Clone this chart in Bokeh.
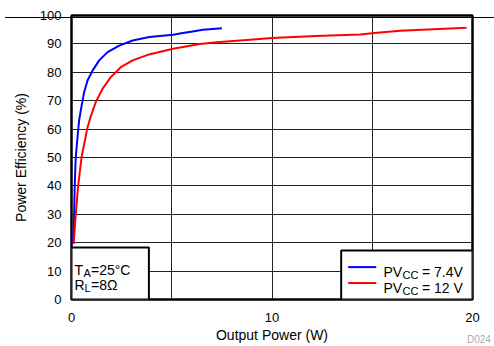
from bokeh.plotting import figure
from bokeh.models import BoxAnnotation, Label, FixedTicker, Range1d, Div
from bokeh.layouts import column
from bokeh.embed import file_html
from bokeh.resources import INLINE

# Data
blue_x = [0.08, 0.13, 0.16, 0.21, 0.33, 0.38, 0.46, 0.63, 0.8, 1.05, 1.38, 1.8, 2.38, 3.05, 3.88, 5.07, 5.55, 6.05, 6.55, 7.5]
blue_y = [19.6, 29.8, 39.9, 49.9, 59.5, 63.0, 66.5, 73.0, 77.1, 80.6, 84.2, 87.1, 89.4, 91.2, 92.4, 93.2, 93.8, 94.4, 95.0, 95.5]
red_x = [0.11, 0.21, 0.33, 0.5, 0.78, 0.96, 1.21, 1.55, 1.96, 2.46, 3.05, 3.87, 5.07, 6.4, 7.25, 8.9, 10.0, 12.2, 14.4, 15.1, 16.4, 18.05, 19.7]
red_y = [19.6, 29.8, 39.9, 50.0, 60.0, 64.5, 69.5, 74.2, 78.3, 81.8, 84.2, 86.3, 88.3, 90.0, 90.6, 91.5, 92.1, 92.8, 93.3, 93.8, 94.6, 95.2, 95.7]
x_ticks = [0, 10, 20]
x_grid = [5, 10, 15]
y_ticks = [0, 10, 20, 30, 40, 50, 60, 70, 80, 90, 100]

FONT = "Liberation Sans"

p = figure(width=494, height=346, output_backend="svg", toolbar_location=None,
           x_range=Range1d(0, 20), y_range=Range1d(0, 100),
           frame_width=401, frame_height=284,
           min_border_left=71, min_border_top=15, min_border_right=22, min_border_bottom=47)
p.background_fill_color = "white"
p.border_fill_color = "white"
p.outline_line_color = "black"
p.outline_line_width = 2.5

p.xaxis.ticker = FixedTicker(ticks=x_ticks)
p.yaxis.ticker = FixedTicker(ticks=y_ticks)
p.xgrid.ticker = FixedTicker(ticks=x_grid)
p.ygrid.ticker = FixedTicker(ticks=y_ticks[1:-1])
for g in (p.xgrid, p.ygrid):
    g.grid_line_color = "#222222"
    g.grid_line_width = 1

for ax in (p.xaxis, p.yaxis):
    ax.axis_line_color = None
    ax.major_tick_line_color = None
    ax.minor_tick_line_color = None
    ax.major_label_text_font = FONT
    ax.major_label_text_font_size = "13px"
    ax.major_label_text_color = "black"
    ax.axis_label_text_font = FONT
    ax.axis_label_text_font_size = "14px"
    ax.axis_label_text_font_style = "normal"
    ax.axis_label_text_color = "black"

p.xaxis.axis_label = "Output Power (W)"
p.yaxis.axis_label = "Power Efficiency (%)"
p.xaxis.major_label_standoff = 7
p.xaxis.axis_label_standoff = 2
p.yaxis.major_label_standoff = 4
p.yaxis.axis_label_standoff = 8

p.line(blue_x, blue_y, line_color="#0000ff", line_width=2)
p.line(red_x, red_y, line_color="#ff0000", line_width=2)

# condition box
p.add_layout(BoxAnnotation(left=0, right=3.86, bottom=0, top=18.3,
                           fill_color="white", fill_alpha=1,
                           line_color="black", line_alpha=1, line_width=2))
# legend box
p.add_layout(BoxAnnotation(left=13.45, right=20, bottom=0, top=17.25,
                           fill_color="white", fill_alpha=1,
                           line_color="black", line_alpha=1, line_width=2))

p.segment(x0=[13.8, 13.8], y0=[11.4, 5.8], x1=[15.2, 15.2], y1=[11.4, 5.8],
          line_color=["#0000ff", "#ff0000"], line_width=2, level="overlay")

def txt(x, y, s, size="14px", xo=0, yo=0, color="black"):
    p.add_layout(Label(x=x, y=y, text=s, x_offset=xo, y_offset=yo,
                       text_font=FONT, text_font_size=size, text_color=color,
                       text_baseline="alphabetic", text_align="left"))

# T_A=25°C
txt(0.15, 10.3, "T")
txt(0.15, 10.3, "A", size="11px", xo=9, yo=-3)
txt(0.15, 10.3, "=25°C", xo=16.5)
# R_L=8Ω
txt(0.15, 5.0, "R")
txt(0.15, 5.0, "L", size="11px", xo=10, yo=-3)
txt(0.15, 5.0, "=8Ω", xo=16.5)
# legend text
for yb, rest in ((9.6, "= 7.4V"), (4.0, "= 12 V")):
    txt(15.56, yb, "PV")
    txt(15.56, yb, "CC", size="11px", xo=19, yo=-3)
    txt(15.56, yb, rest, xo=38.5)

top_rule = Div(text='<div style="width:494px;height:1px;background:#000000"></div>',
               styles={"position": "absolute", "left": "0px", "top": "1px", "z-index": "10"})
code_note = Div(text='<span style="font-family:\'Liberation Sans\';font-size:10px;line-height:12px;color:#aaaaaa">D024</span>',
                styles={"position": "absolute", "left": "462px", "top": "326px", "z-index": "10"})
layout = column(p, top_rule, code_note, spacing=0)

open("out.html", "w").write(file_html(layout, INLINE))
